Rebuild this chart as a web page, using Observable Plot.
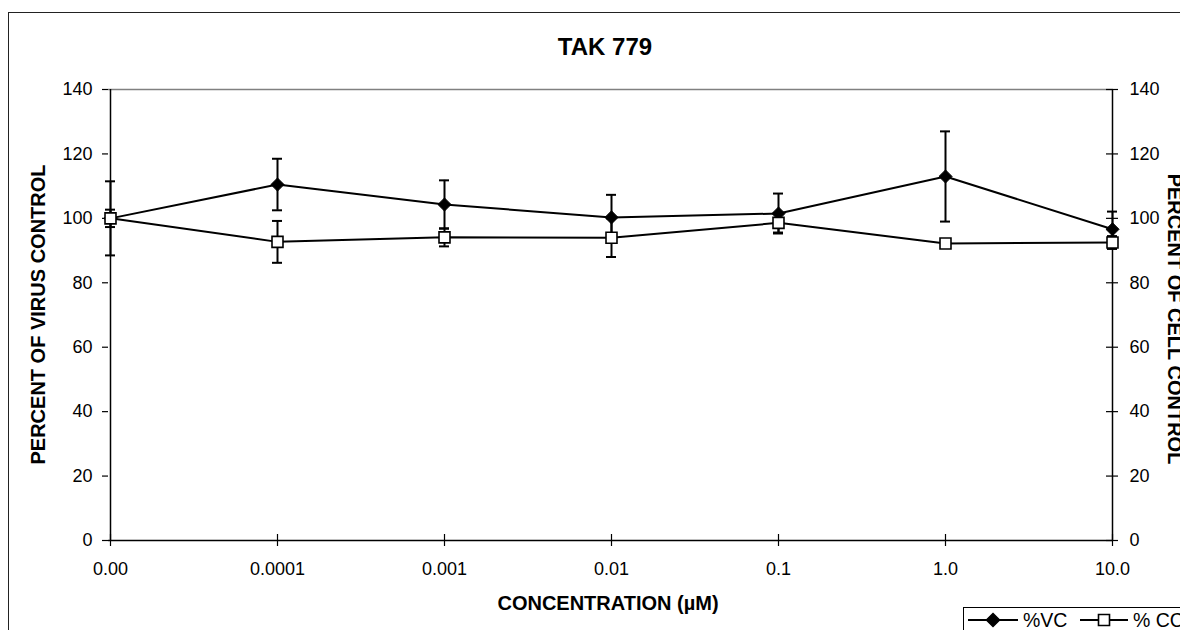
<!DOCTYPE html>
<html>
<head>
<meta charset="utf-8">
<script src="https://cdn.jsdelivr.net/npm/d3@7"></script>
<script src="https://cdn.jsdelivr.net/npm/@observablehq/plot@0.6"></script>
<style>
  html, body { margin: 0; padding: 0; background: #fff; overflow: hidden; }
  #chart { width: 1180px; height: 630px; overflow: hidden; }
  #chart svg { display: block; }
</style>
</head>
<body>
<div id="chart"></div>
<script>
// ---- data ----
const categories = ["0.00", "0.0001", "0.001", "0.01", "0.1", "1.0", "10.0"];
const vcValues = [100, 110.5, 104.3, 100.3, 101.5, 113, 96.6];
const vcErrors = [11.5, 8, 7.5, 7, 6.2, 14, 5.5];
const ccValues = [100, 92.7, 94.1, 94, 98.6, 92.2, 92.5];
const ccErrors = [2.7, 6.5, 2.8, 6, 3, 1, 2];
const yTicks = [0, 20, 40, 60, 80, 100, 120, 140];
const titleText = "TAK 779";
const xLabel = "CONCENTRATION (µM)";
const yLabelLeft = "PERCENT OF VIRUS CONTROL";
const yLabelRight = "PERCENT OF CELL CONTROL";
const seriesNames = ["%VC", "% CC"];

const vc = categories.map((c, i) => ({c, v: vcValues[i], e: vcErrors[i]}));
const cc = categories.map((c, i) => ({c, v: ccValues[i], e: ccErrors[i]}));
const lastCat = categories[categories.length - 1];
const firstCat = categories[0];

const FONT = "'Liberation Sans', Arial, sans-serif";

const errorMarks = (data) => [
  Plot.ruleX(data, {x: "c", y1: d => d.v - d.e, y2: d => d.v + d.e, stroke: "black", strokeWidth: 2}),
  Plot.ruleY(data, {x1: "c", x2: "c", y: d => d.v + d.e, insetLeft: -5, insetRight: -5, stroke: "black", strokeWidth: 2}),
  Plot.ruleY(data, {x1: "c", x2: "c", y: d => d.v - d.e, insetLeft: -5, insetRight: -5, stroke: "black", strokeWidth: 2})
];

const chart = Plot.plot({
  width: 1180,
  height: 630,
  marginLeft: 108,
  marginRight: 67,
  marginTop: 89,
  marginBottom: 90,
  style: {fontFamily: FONT, fontSize: "18px", color: "#000", background: "white", overflow: "visible"},
  x: {type: "point", domain: categories, padding: 0, axis: null},
  y: {domain: [0, 140], axis: null},
  marks: [
    // frame top (gray) and axes
    Plot.ruleY([140], {stroke: "#808080", strokeWidth: 1.5}),
    Plot.ruleY([0], {stroke: "black", strokeWidth: 1.5}),
    Plot.ruleX([firstCat], {x: d => d, y1: 0, y2: 140, stroke: "black", strokeWidth: 1.5}),
    Plot.ruleX([lastCat], {x: d => d, y1: 0, y2: 140, stroke: "black", strokeWidth: 1.5}),
    // left axis
    Plot.axisY(yTicks, {anchor: "left", tickSize: 6, tickPadding: 10, label: null, fontSize: 18, strokeWidth: 1.2}),
    // right axis (crossing ticks)
    Plot.ruleY(yTicks, {y: d => d, x1: () => lastCat, x2: () => lastCat, insetLeft: -6, insetRight: -6, stroke: "black", strokeWidth: 1.2}),
    Plot.axisY(yTicks, {anchor: "right", tickSize: 0, tickPadding: 16, label: null, fontSize: 18}),
    // bottom axis (crossing ticks)
    Plot.ruleX(categories, {x: d => d, y1: 0, y2: 0, insetTop: -6, insetBottom: -6, stroke: "black", strokeWidth: 1.2}),
    Plot.axisX(categories, {anchor: "bottom", tickSize: 0, tickPadding: 22, label: null, fontSize: 18}),
    // error bars
    ...errorMarks(vc),
    ...errorMarks(cc),
    // lines
    Plot.line(vc, {x: "c", y: "v", stroke: "black", strokeWidth: 2}),
    Plot.line(cc, {x: "c", y: "v", stroke: "black", strokeWidth: 2}),
    // markers
    Plot.dot(vc, {x: "c", y: "v", symbol: "diamond2", r: 5.9, fill: "black", stroke: "black", strokeWidth: 1}),
    Plot.dot(cc, {x: "c", y: "v", symbol: "square", r: 6.2, fill: "white", stroke: "black", strokeWidth: 1.6})
  ]
});

document.getElementById("chart").appendChild(chart);

const svg = d3.select(chart);
// outer chart border (only left and top edges fall inside the picture)
svg.insert("rect", ":first-child")
  .attr("x", 8.5).attr("y", 12.5).attr("width", 3000).attr("height", 3000)
  .attr("fill", "none").attr("stroke", "#222").attr("stroke-width", 1);

svg.append("text").text(titleText)
  .attr("x", 605).attr("y", 55).attr("text-anchor", "middle")
  .attr("font-family", FONT).attr("font-weight", "bold").attr("font-size", 24);

svg.append("text").text(xLabel)
  .attr("x", 608).attr("y", 610).attr("text-anchor", "middle")
  .attr("font-family", FONT).attr("font-weight", "bold").attr("font-size", 20);

svg.append("text").text(yLabelLeft)
  .attr("transform", "translate(45,314.5) rotate(-90)").attr("text-anchor", "middle")
  .attr("font-family", FONT).attr("font-weight", "bold").attr("font-size", 20);

svg.append("text").text(yLabelRight)
  .attr("transform", "translate(1168,319) rotate(90)").attr("text-anchor", "middle")
  .attr("font-family", FONT).attr("font-weight", "bold").attr("font-size", 20);

// legend
const lg = svg.append("g").attr("font-family", FONT).attr("font-size", 19.5).attr("text-anchor", "start");
lg.append("rect").attr("x", 963.5).attr("y", 607.5).attr("width", 300).attr("height", 60)
  .attr("fill", "white").attr("stroke", "black").attr("stroke-width", 1);
const items = [
  {name: seriesNames[0], x0: 968, x1: 1018, sym: d3.symbolDiamond2, size: 107, fill: "black", tx: 1023},
  {name: seriesNames[1], x0: 1080, x1: 1128, sym: d3.symbolSquare, size: 121, fill: "white", tx: 1133}
];
items.forEach(it => {
  lg.append("line").attr("x1", it.x0).attr("x2", it.x1).attr("y1", 620).attr("y2", 620)
    .attr("stroke", "black").attr("stroke-width", 2);
  lg.append("path").attr("d", d3.symbol(it.sym, it.size)())
    .attr("transform", `translate(${(it.x0 + it.x1) / 2},620)`)
    .attr("fill", it.fill).attr("stroke", "black").attr("stroke-width", 1.6);
  lg.append("text").text(it.name).attr("x", it.tx).attr("y", 627).attr("text-anchor", "start");
});
</script>
</body>
</html>
